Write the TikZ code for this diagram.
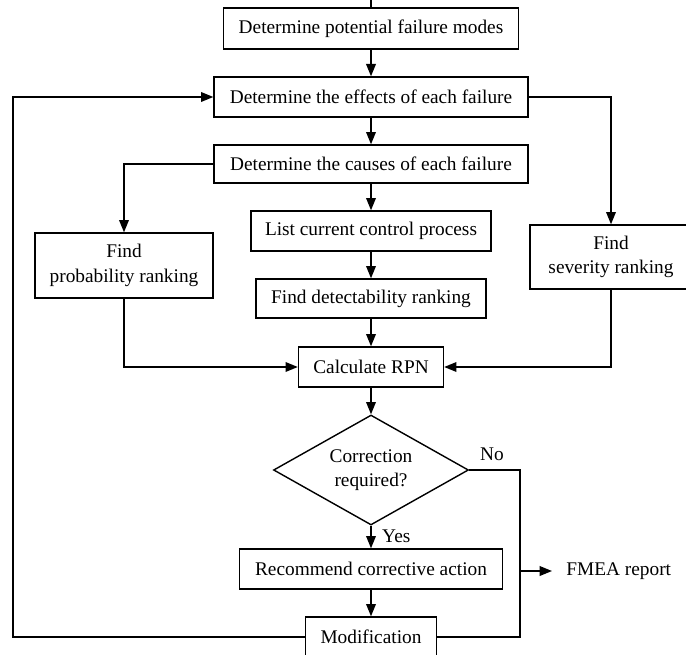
\documentclass[tikz,border=0pt]{standalone}
\usepackage{fontspec}
\setmainfont{Liberation Serif}
\usetikzlibrary{arrows.meta,positioning,shapes.geometric}

\begin{document}
\begin{tikzpicture}[x=0.02cm, y=-0.02cm,
        box/.style={draw, line width=0.8pt, minimum height=0.8cm, align=center,
                                inner sep=2pt, font=\fontsize{11}{14}\selectfont},
        decision/.style={draw, diamond, line width=0.8pt, aspect=1.77, minimum width=3.9cm,
                                minimum height=2.2cm, inner sep=0pt, align=center,
                                font=\fontsize{11}{14}\selectfont},
        lbl/.style={inner sep=2pt, font=\fontsize{11}{14}\selectfont},
        link/.style={line width=0.8pt},
        arr/.style={-{Triangle[length=7pt,width=5.5pt]}, line width=0.8pt}
]
    \useasboundingbox (0,0) rectangle (686,655);
    \coordinate (entry) at (371,0);
    \node[box, minimum width=5.9cm, minimum height=0.82cm] (modes) at (371,28.5) {Determine potential failure modes};
    \node[box, minimum width=6.28cm] (effects) at (371,97)   {Determine the effects of each failure};
    \node[box, minimum width=6.28cm, minimum height=0.76cm] (causes) at (371,164) {Determine the causes of each failure};
    \node[box, minimum width=4.8cm]  (control) at (371,231)  {List current control process};
    \node[box, minimum width=4.6cm, minimum height=0.78cm] (detect) at (371,298.5) {Find detectability ranking};
    \node[box, minimum width=2.9cm]  (rpn)     at (371,367)  {Calculate RPN};
    \node[box, minimum width=3.56cm, minimum height=1.3cm] (prob) at (124,265.5) {Find\\probability ranking};
    \node[box, minimum width=3.24cm, minimum height=1.28cm] (sev) at (611,257) {Find\\severity ranking};
    \node[decision] (check) at (371,470) {Correction\\required?};
    \node[box, minimum width=5.26cm] (action)  at (371,569)  {Recommend corrective action};
    \node[box, minimum width=2.62cm] (modif)   at (371,637)  {Modification};
    \node[lbl, inner xsep=8pt, anchor=west] (fmea) at (552,571) {FMEA report};
    \coordinate (noturn) at (520,470);
    \coordinate (loop) at (13,97);
    \draw[link] (entry) -- (modes);
    \draw[arr] (modes) -- (effects);
    \draw[arr] (effects) -- (causes);
    \draw[arr] (causes) -- (control);
    \draw[arr] (control) -- (detect);
    \draw[arr] (detect) -- (rpn);
    \draw[arr] (causes.west) -| (prob.north);
    \draw[arr] (effects.east) -| (sev.north);
    \draw[arr] (prob.south) |- (rpn.west);
    \draw[arr] (sev.south) |- (rpn.east);
    \draw[arr] (rpn) -- (check);
    \draw[arr] (check) -- node[lbl, pos=0.45, right=4pt] (yes) {Yes} (action);
    \draw[arr] (action) -- (modif);
    \draw[link] (check.east) -- node[lbl, above=3pt, pos=0.45] (no) {No} (noturn) |- (modif.east);
    \draw[arr] (noturn |- fmea.west) -- (fmea.west);
    \draw[arr] (modif.west) -| (loop) -- (effects.west);
\end{tikzpicture}
\end{document}
